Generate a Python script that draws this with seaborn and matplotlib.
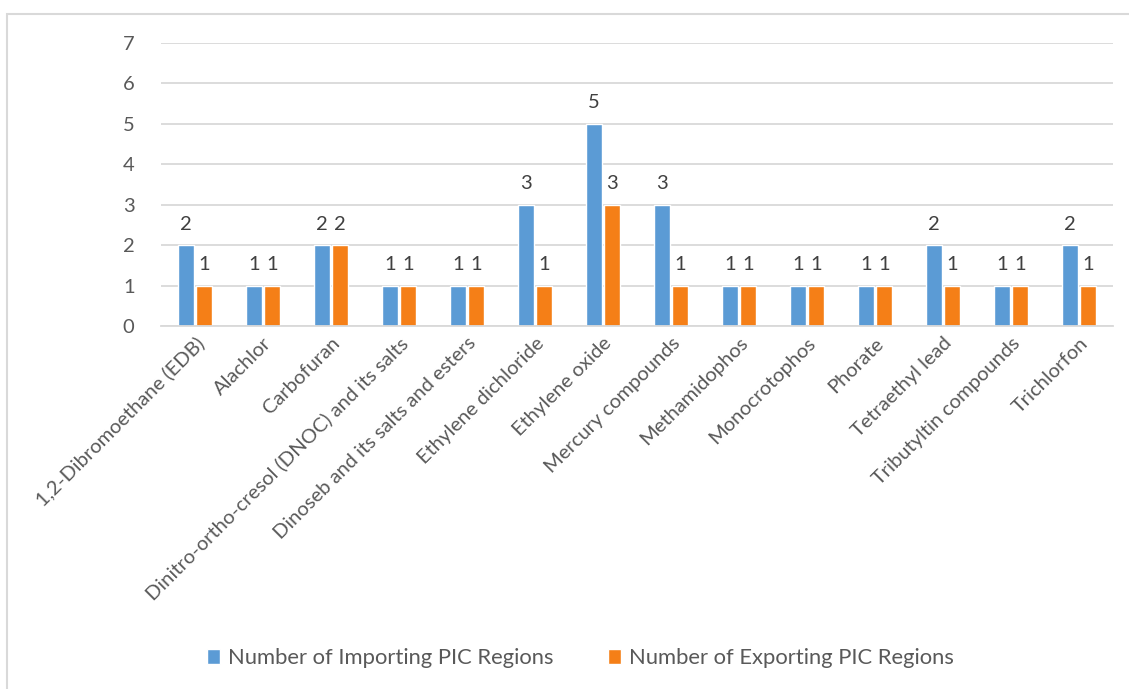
import matplotlib
matplotlib.use("Agg")
import matplotlib.pyplot as plt
import pandas as pd
import seaborn as sns
from matplotlib.patches import Rectangle

chemicals = [
    "1,2-Dibromoethane (EDB)",
    "Alachlor",
    "Carbofuran",
    "Dinitro-ortho-cresol (DNOC) and its salts",
    "Dinoseb and its salts and esters",
    "Ethylene dichloride",
    "Ethylene oxide",
    "Mercury compounds",
    "Methamidophos",
    "Monocrotophos",
    "Phorate",
    "Tetraethyl lead",
    "Tributyltin compounds",
    "Trichlorfon",
]
importing = [2, 1, 2, 1, 1, 3, 5, 3, 1, 1, 1, 2, 1, 2]
exporting = [1, 1, 2, 1, 1, 1, 3, 1, 1, 1, 1, 1, 1, 1]
series_names = ["Number of Importing PIC Regions", "Number of Exporting PIC Regions"]
colors = ["#5B9BD5", "#F57F17"]

df = pd.DataFrame({
    "chemical": chemicals * 2,
    "count": importing + exporting,
    "series": [series_names[0]] * len(chemicals) + [series_names[1]] * len(chemicals),
})

sns.set_theme(style="white")
plt.rcParams["font.family"] = ["Lato", "DejaVu Sans"]
text_gray = "#595959"
grid_gray = "#D9D9D9"

fig = plt.figure(figsize=(11.29, 6.89), dpi=100)
ax = fig.add_axes([0.1426, 0.5269, 0.8432, 0.4107])

sns.barplot(
    df, x="chemical", y="count", hue="series", palette=colors,
    width=0.53, gap=0.12, saturation=1, ax=ax, legend=True,
)

for container in ax.containers:
    ax.bar_label(container, padding=9, fontsize=14.5, color="#404040")

ax.set_ylim(0, 7)
ax.set_yticks(range(8))
ax.yaxis.grid(True, color=grid_gray, linewidth=1.3)
ax.set_axisbelow(True)
for side in ["top", "right", "left"]:
    ax.spines[side].set_visible(False)
ax.spines["bottom"].set_color(grid_gray)
ax.spines["bottom"].set_linewidth(1.3)
ax.tick_params(axis="y", length=0, pad=19, labelsize=14.5, labelcolor=text_gray)
ax.tick_params(axis="x", length=0, pad=6, labelsize=14.5, labelcolor=text_gray)
plt.setp(ax.get_xticklabels(), rotation=45, ha="right", rotation_mode="anchor")
ax.set_xlabel(None)
ax.set_ylabel(None)

handles, labels = ax.get_legend_handles_labels()
ax.get_legend().remove()
fig.legend(
    handles, labels, loc="center", bbox_to_anchor=(0.514, 0.045), ncol=2,
    frameon=False, fontsize=15.8, labelcolor=text_gray, handlelength=0.6,
    handleheight=0.7, handletextpad=0.35, columnspacing=2.5,
)

fig.patches.append(Rectangle(
    (7 / 1129, -0.1), 1.2, 1.1 - 14 / 689, transform=fig.transFigure,
    fill=False, edgecolor=grid_gray, linewidth=1.5, figure=fig,
))

fig.savefig("out.png", dpi=100, facecolor="white")
